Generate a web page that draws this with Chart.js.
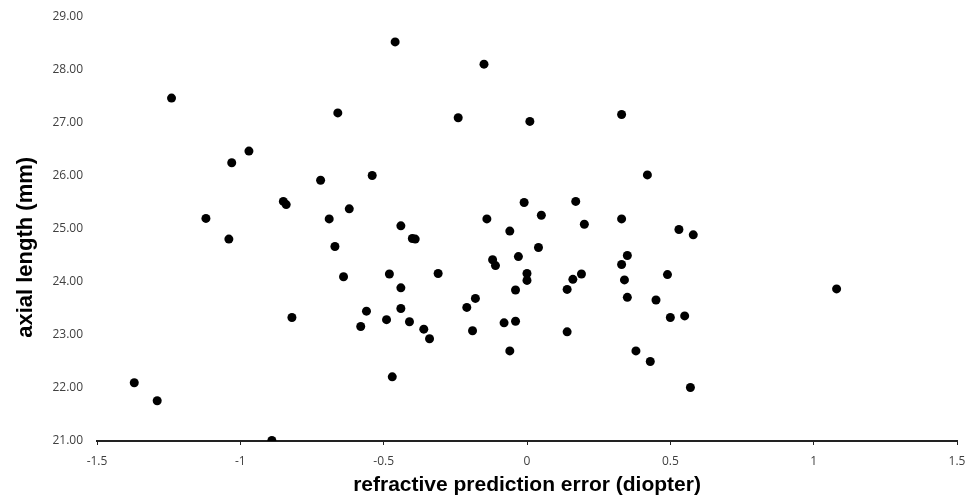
<!DOCTYPE html>
<html>
<head>
<meta charset="utf-8">
<script src="https://cdn.jsdelivr.net/npm/chart.js@4/dist/chart.umd.min.js"></script>
<style>
  html, body { margin: 0; padding: 0; background: #fff; }
  #scatter { display: block; }
</style>
</head>
<body>
<canvas id="scatter" width="967" height="496"></canvas>
<script>
// refractive prediction error (diopter)
const errors = [
  -1.37, -1.29, -1.24, -1.12, -1.04, -1.03, -0.97, -0.89, -0.85, -0.84,
  -0.82, -0.72, -0.69, -0.67, -0.66, -0.64, -0.62, -0.58, -0.56, -0.54,
  -0.49, -0.48, -0.47, -0.46, -0.44, -0.44, -0.44, -0.41, -0.40, -0.39,
  -0.36, -0.34, -0.31, -0.24, -0.21, -0.19, -0.18, -0.15, -0.14, -0.12,
  -0.11, -0.08, -0.06, -0.06, -0.04, -0.04, -0.03, -0.01, 0.00, 0.00,
  0.01, 0.04, 0.05, 0.14, 0.14, 0.16, 0.17, 0.19, 0.20, 0.33,
  0.33, 0.33, 0.34, 0.35, 0.35, 0.38, 0.42, 0.43, 0.45, 0.49,
  0.50, 0.53, 0.55, 0.57, 0.58, 1.08
];
// axial length (mm)
const axialLengths = [
  22.10, 21.76, 27.47, 25.20, 24.81, 26.25, 26.47, 21.01, 25.52, 25.46,
  23.33, 25.92, 25.19, 24.67, 27.19, 24.10, 25.38, 23.16, 23.45, 26.01,
  23.29, 24.15, 22.21, 28.53, 25.06, 23.89, 23.50, 23.25, 24.82, 24.81,
  23.11, 22.93, 24.16, 27.10, 23.52, 23.08, 23.69, 28.11, 25.19, 24.42,
  24.31, 23.23, 24.96, 22.70, 23.85, 23.26, 24.48, 25.50, 24.16, 24.03,
  27.03, 24.65, 25.26, 23.86, 23.06, 24.05, 25.52, 24.15, 25.09, 27.16,
  25.19, 24.33, 24.04, 24.50, 23.71, 22.70, 26.02, 22.50, 23.66, 24.14,
  23.33, 24.99, 23.36, 22.01, 24.89, 23.87
];

const xTitle = 'refractive prediction error (diopter)';
// trailing spaces push the rotated title a little below the axis middle, as in the original
const yTitle = 'axial length (mm)      ';

let points = [];
for (let i = 0; i < errors.length; i++) {
    points.push({x: errors[i], y: axialLengths[i]});
}

const tickFont = {family: '"Open Sans", "Noto Sans", sans-serif', size: 12};

new Chart('scatter', {
    type: 'scatter',
    data: {
        datasets: [{
            label: 'eyes',
            data: points,
            pointRadius: 4.5,
            pointHoverRadius: 4.5,
            pointBackgroundColor: '#000',
            pointBorderColor: '#000',
            pointBorderWidth: 0
        }]
    },
    options: {
        responsive: false,
        animation: false,
        layout: {
            padding: {top: 17, right: 10, left: 0, bottom: 0}
        },
        plugins: {
            legend: {display: false},
            tooltip: {enabled: false}
        },
        scales: {
            x: {
                type: 'linear',
                min: -1.5,
                max: 1.5,
                ticks: {
                    stepSize: 0.5,
                    color: '#404040',
                    font: tickFont,
                    padding: 9,
                    callback: function(value) {
                        return String(value);
                    }
                },
                grid: {
                    display: true,
                    drawOnChartArea: false,
                    drawTicks: true,
                    tickLength: 4,
                    color: '#222'
                },
                border: {display: true, color: '#222', width: 2},
                title: {
                    display: true,
                    text: xTitle,
                    color: '#000',
                    font: {family: '"Liberation Sans", Arial, sans-serif', size: 21, weight: 'bold'},
                    padding: {top: 1, bottom: -2}
                },
                afterFit: function(scale) {
                    scale.height = 55;
                    // tick padding would otherwise eat into the right edge
                    scale.paddingLeft = 0;
                    scale.paddingRight = 0;
                }
            },
            y: {
                min: 21,
                max: 29,
                ticks: {
                    stepSize: 1,
                    autoSkip: false,
                    color: '#404040',
                    font: tickFont,
                    padding: 6,
                    callback: function(value) {
                        return value.toFixed(2);
                    }
                },
                grid: {display: false},
                border: {display: false},
                title: {
                    display: true,
                    text: yTitle,
                    color: '#000',
                    font: {family: '"Liberation Sans", Arial, sans-serif', size: 22, weight: 'bold'},
                    padding: {top: 13, bottom: 0}
                },
                afterFit: function(scale) {
                    scale.width = 97;
                }
            }
        }
    }
});
</script>
</body>
</html>
